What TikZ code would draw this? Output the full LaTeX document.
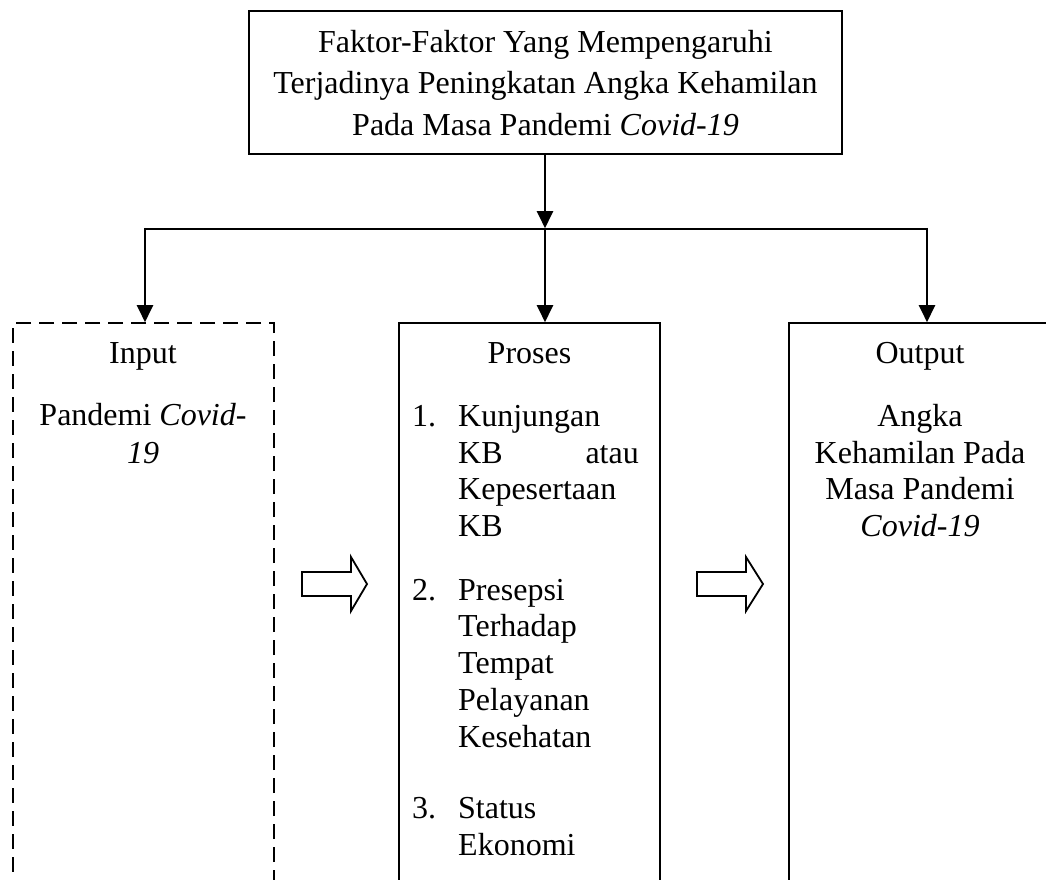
\documentclass[tikz,border=0pt]{standalone}
\usepackage{fontspec}
\setmainfont{Liberation Serif}
\usetikzlibrary{arrows.meta}
\begin{document}
\begin{tikzpicture}[x=1pt,y=-1pt,
  font=\fontsize{32}{36.7}\selectfont,
  frame/.style={draw=black, line width=1.7pt, inner sep=0pt, outer sep=0pt},
  topframe/.style={frame, line width=2pt},
  dashframe/.style={frame, dash pattern=on 15pt off 8pt},
  conn/.style={draw=black, line width=2.2pt},
  arr/.style={conn, -{Triangle[width=16pt,length=17pt]}, shorten >=0.8pt},
  txt/.style={anchor=base, inner sep=0pt},
  txtl/.style={anchor=base west, inner sep=0pt},
  txtr/.style={anchor=base east, inner sep=0pt},
  blockarrow/.style={draw=black, line width=1.8pt, fill=white, line join=miter}
]
\useasboundingbox (0,0) rectangle (1046,879);
\fill[white] (0,0) rectangle (1046,879);
\clip (0,0) rectangle (1046,879);

% boxes
\node[topframe, minimum width=593pt, minimum height=143pt] (top) at (545.5,82.5) {};
\node[dashframe, minimum width=261pt, minimum height=600pt] (input) at (143.5,623) {};
\node[frame, minimum width=261pt, minimum height=600pt] (proses) at (529.5,623) {};
\node[frame, minimum width=262pt, minimum height=600pt] (output) at (920,623) {};

% connectors
\coordinate (junc) at (545,229);
\coordinate (jl) at (145,229);
\coordinate (jr) at (927,229);
\draw[arr] (top.south -| junc) -- (junc);
\draw[conn] (jl) -- (jr);
\draw[arr] ([yshift=1.1pt]jl) -- (jl |- input.north);
\draw[arr] (junc) -- (junc |- proses.north);
\draw[arr] ([yshift=1.1pt]jr) -- (jr |- output.north);

% block arrows
\draw[blockarrow] (302,572) -- (351,572) -- (351,557) -- (367,584) -- (351,611) -- (351,596) -- (302,596) -- cycle;
\draw[blockarrow] (697,572) -- (746,572) -- (746,557) -- (763,584) -- (746,611) -- (746,596) -- (697,596) -- cycle;

% top text
\node[txt] (t1) at (545.5,52) {Faktor-Faktor Yang Mempengaruhi};
\node[txt] (t2) at (545.5,93.5) {Terjadinya Peningkatan Angka Kehamilan};
\node[txt] (t3) at (545.5,135) {Pada Masa Pandemi \textit{Covid-19}};

% input text
\node[txt] (inh) at (143,363) {Input};
\node[txt] (in1) at (143,425) {Pandemi \textit{Covid-}};
\node[txt] (in2) at (143,463) {\textit{19}};

% proses text
\node[txt] (prh) at (529.5,363) {Proses};
\node[txtl] (n1) at (412,426) {1.};
\node[txtl] (p11) at (458,426) {Kunjungan};
\node[txtl] (p12) at (458,463) {KB};
\node[txtr] (p12b) at (639,463) {atau};
\node[txtl] (p13) at (458,499) {Kepesertaan};
\node[txtl] (p14) at (458,536) {KB};
\node[txtl] (n2) at (412,600) {2.};
\node[txtl] (p21) at (458,600) {Presepsi};
\node[txtl] (p22) at (458,636) {Terhadap};
\node[txtl] (p23) at (458,673) {Tempat};
\node[txtl] (p24) at (458,710) {Pelayanan};
\node[txtl] (p25) at (458,747) {Kesehatan};
\node[txtl] (n3) at (412,818) {3.};
\node[txtl] (p31) at (458,818) {Status};
\node[txtl] (p32) at (458,855) {Ekonomi};

% output text
\node[txt] (outh) at (920,363) {Output};
\node[txt] (o1) at (920,426) {Angka};
\node[txt] (o2) at (920,463) {Kehamilan Pada};
\node[txt] (o3) at (920,499) {Masa Pandemi};
\node[txt] (o4) at (920,536) {\textit{Covid-19}};
\end{tikzpicture}
\end{document}
